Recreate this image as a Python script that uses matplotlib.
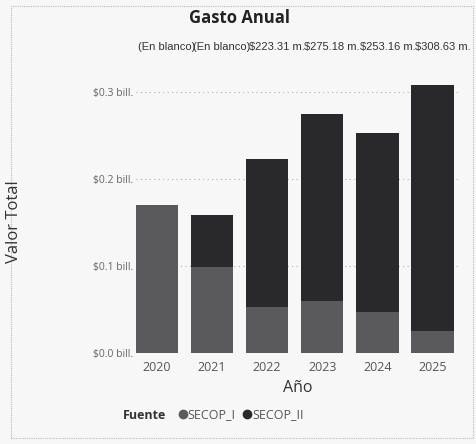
import matplotlib
matplotlib.use("Agg")
import matplotlib.pyplot as plt
from matplotlib.lines import Line2D
from matplotlib.patches import Rectangle

years = ["2020", "2021", "2022", "2023", "2024", "2025"]
secop_i = [0.170, 0.099, 0.053, 0.060, 0.047, 0.025]
secop_ii = [0.000, 0.060, 0.1703, 0.2152, 0.2062, 0.2836]
total_labels = ["(En blanco)", "(En blanco)", "$223.31 m.", "$275.18 m.", "$253.16 m.", "$308.63 m."]
yticks = [0.0, 0.1, 0.2, 0.3]
ytick_labels = ["$0.0 bill.", "$0.1 bill.", "$0.2 bill.", "$0.3 bill."]

c1 = "#5a5a5c"
c2 = "#29292b"

W, H = 477, 444
fig = plt.figure(figsize=(W / 100, H / 100), dpi=100)
fig.patch.set_facecolor("#f7f7f7")
font = ["Open Sans", "DejaVu Sans"]

ax = fig.add_axes([136 / W, 1 - 353 / H, (460 - 136) / W, (353 - 75) / H])
ax.set_facecolor("#f7f7f7")
x = list(range(len(years)))
ax.bar(x, secop_i, width=0.77, color=c1, zorder=2)
ax.bar(x, secop_ii, width=0.77, bottom=secop_i, color=c2, zorder=2)

ax.set_xlim(-0.38, 5.5)
ax.set_ylim(0, 0.32)
ax.set_yticks(yticks)
ax.set_yticklabels(ytick_labels, fontsize=7.5, color="#666666", family=font)
ax.set_xticks(x)
ax.set_xticklabels(years, fontsize=9, color="#555555", family=font)
ax.tick_params(axis="both", length=0)
ax.tick_params(axis="y", pad=2)
ax.tick_params(axis="x", pad=6)
for s in ax.spines.values():
    s.set_visible(False)
ax.grid(axis="y", linestyle=(0, (1, 3)), color="#b0b0b0", linewidth=0.8, zorder=0)

ax.set_xlabel("Año", fontsize=11.5, color="#333333", family=font, labelpad=4)
fig.text(14 / W, 1 - 222 / H, "Valor Total", rotation=90, fontsize=12, color="#333333",
         family=font, ha="center", va="center")

fig.text(240 / W, 1 - 18 / H, "Gasto Anual", fontsize=12, fontweight="bold",
         color="#222222", family=font, ha="center", va="center")

for xi, lab in zip(x, total_labels):
    xd = ax.transData.transform((xi, 0))[0] + 10
    fig.text(xd / fig.dpi / fig.get_figwidth(), 1 - 47 / H, lab, fontsize=8,
             color="#333333", ha="center", va="center", family=["Liberation Sans", "DejaVu Sans"])

fig.text(145 / W, 1 - 415 / H, "Fuente", fontsize=9, fontweight="bold", color="#333333",
         family=font, ha="center", va="center")
handles = [Line2D([], [], marker="o", linestyle="", color=c1, markersize=6),
           Line2D([], [], marker="o", linestyle="", color=c2, markersize=6)]
fig.legend(handles, ["SECOP_I", "SECOP_II"], loc="center left",
           bbox_to_anchor=(164 / W, 1 - 415 / H), ncol=2, frameon=False,
           handletextpad=-0.2, columnspacing=0.3, handlelength=1.2,
           prop={"family": font, "size": 9}, labelcolor="#555555")

fig.patches.append(Rectangle((11 / W, 6 / H), 462 / W, 432 / H, transform=fig.transFigure,
                             fill=False, edgecolor="#bbbbbb", linestyle=(0, (1, 1)), linewidth=0.8))

fig.savefig("out.png", dpi=100, facecolor=fig.get_facecolor())
